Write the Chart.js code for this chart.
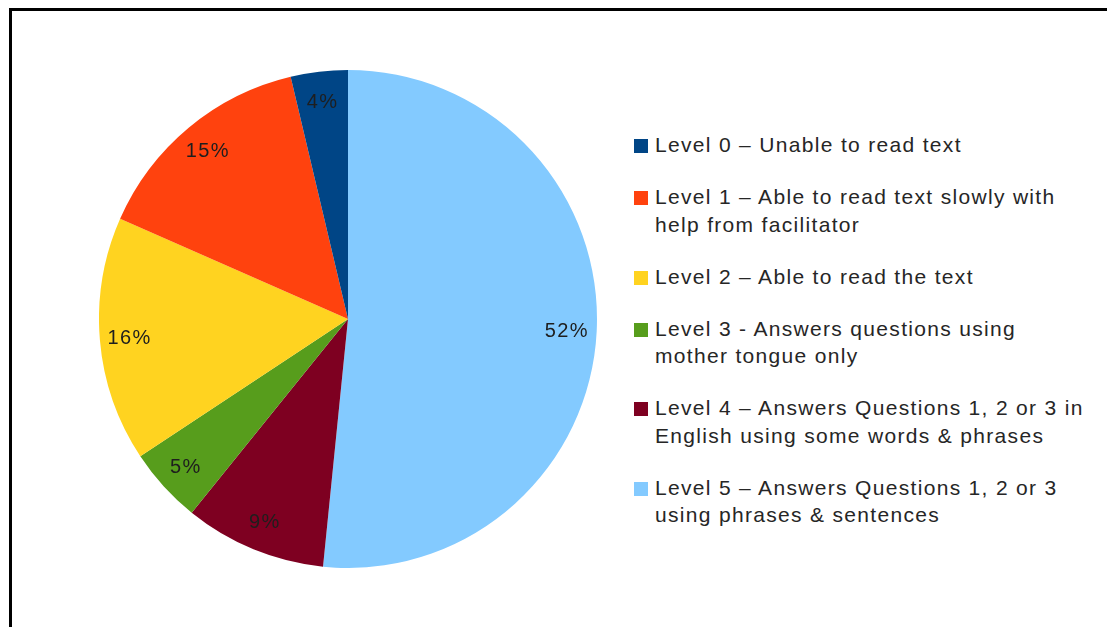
<!DOCTYPE html>
<html>
<head>
<meta charset="utf-8">
<script src="https://cdn.jsdelivr.net/npm/chart.js@4"></script>
<style>
  body { margin: 0; background: #fff; width: 1107px; height: 627px; overflow: hidden; position: relative; }
  #frame { position: absolute; left: 9px; top: 8px; width: 1200px; height: 700px; border-top: 3px solid #000; border-left: 3px solid #000; }
  #pieBox { position: absolute; left: 99px; top: 70px; width: 498px; height: 498px; }
  #legend { position: absolute; left: 634px; top: 131px; font-family: "Liberation Sans", Arial, sans-serif; font-size: 21px; line-height: 27.5px; letter-spacing: 1.32px; color: #262626; }
  .item { position: relative; padding-left: 21px; margin-bottom: 24.5px; white-space: nowrap; }
  .sw { position: absolute; left: 0; top: 8px; width: 14px; height: 14px; }
</style>
</head>
<body>
<div id="frame"></div>
<div id="pieBox"><canvas id="myChart"></canvas></div>
<div id="legend"></div>
<script>
// levels in legend order
const levelNames = [
    ['Level 0 \u2013 Unable to read text'],
    ['Level 1 \u2013 Able to read text slowly with', 'help from facilitator'],
    ['Level 2 \u2013 Able to read the text'],
    ['Level 3 - Answers questions using', 'mother tongue only'],
    ['Level 4 \u2013 Answers Questions 1, 2 or 3 in', 'English using some words & phrases'],
    ['Level 5 \u2013 Answers Questions 1, 2 or 3', 'using phrases & sentences']
];
const levelShares = [3.7, 14.7, 15.9, 4.9, 9.2, 51.6];
const levelLabels = ['4%', '15%', '16%', '5%', '9%', '52%'];
const levelColors = ['#004586', '#ff420e', '#ffd320', '#579d1c', '#7e0021', '#83caff'];

// the original goes counter-clockwise from the top, chart.js goes clockwise
const pieData = levelShares.slice().reverse();
const pieColors = levelColors.slice().reverse();
const pieLabels = levelLabels.slice().reverse();

const pctLabels = {
    id: 'pctLabels',
    afterDatasetsDraw(chart) {
        const ctx = chart.ctx;
        const arcs = chart.getDatasetMeta(0).data;
        ctx.save();
        ctx.font = '20px "Liberation Sans", Arial, sans-serif';
        ctx.letterSpacing = '1.4px';
        ctx.fillStyle = '#1e1e1e';
        ctx.textAlign = 'center';
        ctx.textBaseline = 'middle';
        arcs.forEach(function (arc, i) {
            const mid = (arc.startAngle + arc.endAngle) / 2;
            const r = arc.outerRadius * 0.88;
            ctx.fillText(pieLabels[i], arc.x + Math.cos(mid) * r, arc.y + Math.sin(mid) * r + 1);
        });
        ctx.restore();
    }
};

const ctx = document.querySelector('#myChart').getContext('2d');
const myChart = new Chart(ctx, {
    type: 'pie',
    data: {
        labels: pieLabels,
        datasets: [{
            data: pieData,
            backgroundColor: pieColors,
            borderWidth: 0,
            hoverOffset: 0,
            offset: 0
        }]
    },
    options: {
        responsive: true,
        maintainAspectRatio: false,
        animation: false,
        layout: { padding: 0 },
        plugins: {
            legend: { display: false },
            tooltip: { enabled: false }
        }
    },
    plugins: [pctLabels]
});

// legend
const legend = document.querySelector('#legend');
levelNames.forEach(function (lines, i) {
    const item = document.createElement('div');
    item.className = 'item';
    const sw = document.createElement('span');
    sw.className = 'sw';
    sw.style.background = levelColors[i];
    item.appendChild(sw);
    lines.forEach(function (t, j) {
        if (j > 0) item.appendChild(document.createElement('br'));
        item.appendChild(document.createTextNode(t));
    });
    legend.appendChild(item);
});
</script>
</body>
</html>
